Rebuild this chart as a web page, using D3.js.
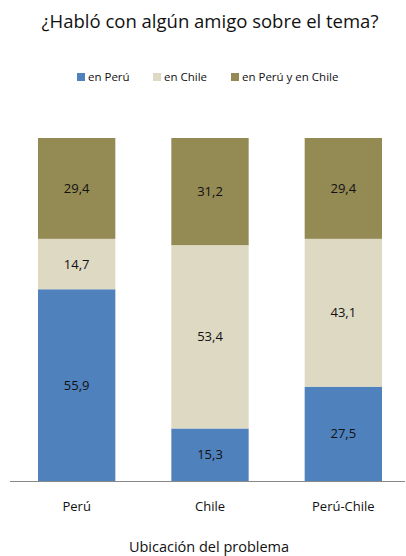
<!DOCTYPE html>
<html>
<head>
<meta charset="utf-8">
<script src="https://cdn.jsdelivr.net/npm/d3@7"></script>
<style>
  body { margin: 0; background: #fff; }
  text { font-family: "Open Sans", sans-serif; fill: #111; }
</style>
</head>
<body>
<div id="chart"></div>
<script>
const categories = ["Perú", "Chile", "Perú-Chile"];
const seriesNames = ["en Perú", "en Chile", "en Perú y en Chile"];
const enPeru = [55.9, 15.3, 27.5];
const enChile = [14.7, 53.4, 43.1];
const enAmbos = [29.4, 31.2, 29.4];
const colors = ["#4f81bd", "#ddd9c3", "#948a54"];

const width = 406, height = 556;
const marginTop = 138, marginBottom = 75;

const rows = categories.map((c, i) => ({
    cat: c, "en Perú": enPeru[i], "en Chile": enChile[i], "en Perú y en Chile": enAmbos[i]
}));

const svg = d3.select("#chart").append("svg")
    .attr("width", width)
    .attr("height", height);

const x = d3.scaleBand()
    .domain(categories)
    .range([10, 410])
    .paddingInner(0.42)
    .paddingOuter(0.21);

const y = d3.scaleLinear()
    .domain([0, 100])
    .range([height - marginBottom, marginTop]);

const color = d3.scaleOrdinal().domain(seriesNames).range(colors);

// 100% stacked
const stack = d3.stack().keys(seriesNames).offset(d3.stackOffsetExpand);
const series = stack(rows);

const g = svg.append("g");
series.forEach(s => {
    g.append("g")
        .attr("fill", color(s.key))
        .selectAll("rect")
        .data(s)
        .join("rect")
        .attr("x", d => x(d.data.cat))
        .attr("y", d => y(d[1] * 100))
        .attr("width", x.bandwidth())
        .attr("height", d => y(d[0] * 100) - y(d[1] * 100));

    g.append("g")
        .selectAll("text")
        .data(s)
        .join("text")
        .attr("x", d => x(d.data.cat) + x.bandwidth() / 2)
        .attr("y", d => y((d[0] + d[1]) / 2 * 100))
        .attr("dy", "0.35em")
        .attr("text-anchor", "middle")
        .attr("font-size", 13)
        .text(d => d3.format(".1f")(d.data[s.key]).replace(".", ","));
});

// axis
svg.append("g")
    .attr("transform", `translate(0,${height - marginBottom})`)
    .call(d3.axisBottom(x).tickSize(0).tickPadding(21))
    .call(g => g.select(".domain").attr("stroke", "#888").attr("d", "M10,0.5H405"))
    .call(g => g.selectAll(".tick text")
        .attr("font-size", 13)
        .attr("font-family", "Open Sans, sans-serif")
        .attr("fill", "#111"));

svg.append("text")
    .attr("x", 209)
    .attr("y", 552)
    .attr("text-anchor", "middle")
    .attr("font-size", 14.5)
    .text("Ubicación del problema");

// title
svg.append("text")
    .attr("x", 210)
    .attr("y", 28)
    .attr("text-anchor", "middle")
    .attr("font-size", 18.5)
    .text("¿Habló con algún amigo sobre el tema?");

// legend
const legendX = [77, 153, 231];
const legend = svg.append("g");
seriesNames.forEach((n, i) => {
    legend.append("rect")
        .attr("x", legendX[i])
        .attr("y", 73)
        .attr("width", 8)
        .attr("height", 8)
        .attr("fill", color(n));
    legend.append("text")
        .attr("x", legendX[i] + 11)
        .attr("y", 81)
        .attr("font-size", 11.5)
        .text(n);
});
</script>
</body>
</html>
